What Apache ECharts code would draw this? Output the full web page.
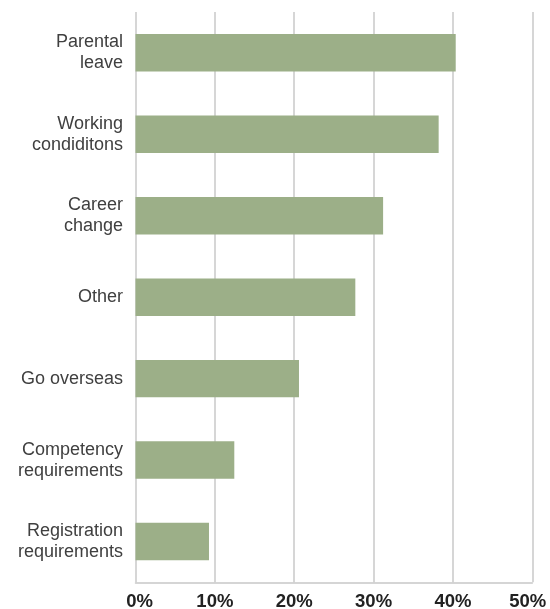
<!DOCTYPE html>
<html><head><meta charset="utf-8">
<script src="https://cdn.jsdelivr.net/npm/echarts@6/dist/echarts.min.js"></script>
<style>html,body{margin:0;padding:0;background:#fff}#c{width:550px;height:609px}</style>
</head><body><div id="c"></div>
<script>
const categories = ["Parental\nleave","Working\ncondiditons","Career\nchange","Other","Go overseas","Competency\nrequirements","Registration\nrequirements"];
const values = [40.35, 38.2, 31.2, 27.7, 20.6, 12.45, 9.26];
const tickLabels = ["0%","10%","20%","30%","40%","50%"];
const chart = echarts.init(document.getElementById('c'));
const tickStyle = {fontFamily:'Liberation Sans',fontWeight:'bold',fontSize:18.5,color:'#222'};
chart.setOption({
  animation:false,
  grid:{left:135.5,right:17.7,top:12,bottom:26.7,containLabel:false,outerBoundsMode:'none'},
  xAxis:{type:'value',min:0,max:50,interval:10,
    axisLine:{show:true,lineStyle:{color:'#c8c8c8',width:1.5}},axisTick:{show:false},
    splitLine:{show:true,lineStyle:{color:'#c8c8c8',width:1.5}},
    axisLabel:Object.assign({margin:10,
      formatter:v=>{const i=v/10; const s=i===0?'f':(i===5?'l':'m'); return '{'+s+'|'+tickLabels[i]+'}';},
      rich:{f:Object.assign({padding:[0,0,0,8]},tickStyle),m:Object.assign({},tickStyle),l:Object.assign({padding:[0,9,0,0]},tickStyle)}},tickStyle)},
  yAxis:{type:'category',inverse:true,data:categories,
    axisLine:{show:false},axisTick:{show:false},
    axisLabel:{margin:12.5,fontFamily:'Liberation Sans',fontSize:18,color:'#404040',lineHeight:21,align:'right'}},
  series:[{type:'bar',data:values,barWidth:'46%',itemStyle:{color:'#9caf88'},silent:true}]
});
</script></body></html>
